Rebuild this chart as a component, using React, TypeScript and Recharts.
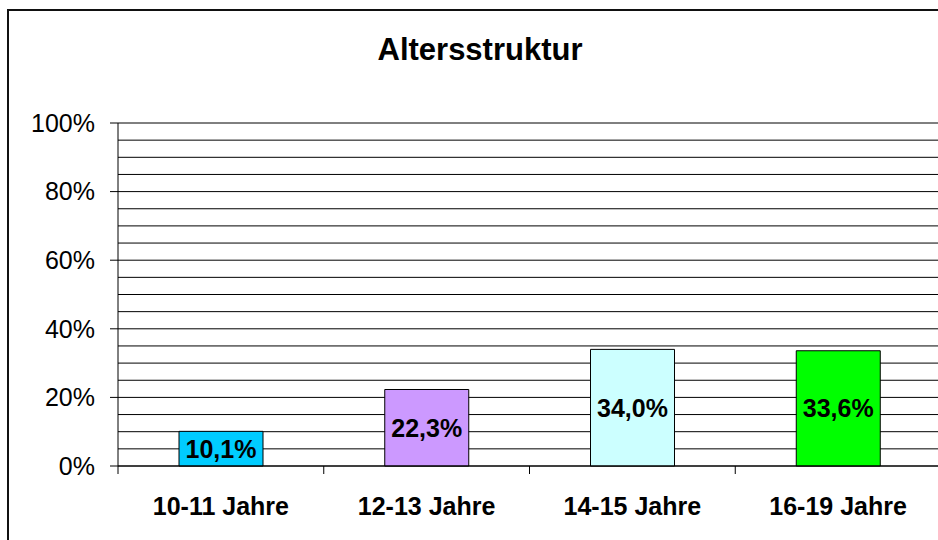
import { BarChart, Bar, XAxis, YAxis, CartesianGrid, Cell, LabelList } from "recharts";

const categories = ["10-11 Jahre", "12-13 Jahre", "14-15 Jahre", "16-19 Jahre"];
const shares = [10.1, 22.3, 34.0, 33.6];
const barColors = ["#00CCFF", "#CC99FF", "#CCFFFF", "#00FF00"];
const yTicks = [0, 20, 40, 60, 80, 100];
const gridTicks = [0, 5, 10, 15, 20, 25, 30, 35, 40, 45, 50, 55, 60, 65, 70, 75, 80, 85, 90, 95, 100];
const yMax = 100;

const data = categories.map((name, i) => ({ name, value: shares[i] }));

const font = "'Liberation Sans', Arial, sans-serif";

const fmtPct = (v: number) => v.toFixed(1).replace(".", ",") + "%";

// category label plus a tick mark at the left edge of each band
const CategoryTick = (props: any) => {
  const { x, y, payload } = props;
  const half = payload?.offset ?? 0;
  const lx = x - half;
  return (
    <g>
      <line x1={lx} x2={lx} y1={y - 31} y2={y - 23} stroke="#000" />
      {payload?.index === categories.length - 1 && (
        <line x1={x + half} x2={x + half} y1={y - 31} y2={y - 23} stroke="#000" />
      )}
      <text x={x} y={y} dy="0.71em" textAnchor="middle" fill="#000" fontSize={25} fontWeight="bold" fontFamily={font}>
        {payload?.value}
      </text>
    </g>
  );
};

const gridCoords = (props: any) => {
  const scale = props?.yAxis?.scale;
  if (typeof scale === "function") return gridTicks.map((v) => scale(v));
  if (scale && typeof scale.map === "function") return gridTicks.map((v) => scale.map(v));
  const off = props?.offset;
  if (!off) return [];
  return gridTicks.map((v) => off.top + off.height * (1 - v / yMax));
};

const App = () => {
  return (
    <div style={{ position: "absolute", left: 0, top: 0, width: 938, height: 540, overflow: "hidden", background: "#fff", fontFamily: font }}>
      <div style={{ position: "absolute", left: 7, top: 9, width: 1000, height: 1000, border: "2px solid #111" }} />
      <div style={{ position: "absolute", left: 0, top: 34, width: 960, textAlign: "center", fontSize: 31, lineHeight: "31px", fontWeight: "bold", color: "#000" }}>
        Altersstruktur
      </div>
      <div style={{ position: "absolute", left: 0, top: 0 }}>
        <BarChart width={960} height={540} data={data} margin={{ top: 123, right: 19, bottom: 0, left: 0 }}>
          <CartesianGrid vertical={false} horizontalCoordinatesGenerator={gridCoords} stroke="#000" />
          <XAxis
            dataKey="name"
            height={74}
            axisLine={{ stroke: "#000" }}
            tickLine={false}
            tickSize={8}
            tickMargin={23}
            tick={<CategoryTick />}
            interval={0}
          />
          <YAxis
            domain={[0, yMax]}
            ticks={yTicks}
            width={118}
            axisLine={{ stroke: "#000" }}
            tickLine={{ stroke: "#000" }}
            tickSize={8}
            tickMargin={15}
            tickFormatter={(v: number) => v + "%"}
            tick={{ fill: "#000", fontSize: 25, fontFamily: font }}
          />
          <Bar dataKey="value" barSize={84} stroke="#000" strokeWidth={1} isAnimationActive={false}>
            {data.map((d, i) => (
              <Cell key={d.name} fill={barColors[i]} />
            ))}
            <LabelList
              dataKey="value"
              position="center"
              formatter={(v: any) => fmtPct(Number(v))}
              style={{ fill: "#000", fontSize: 25, fontWeight: "bold", fontFamily: font }}
            />
          </Bar>
        </BarChart>
      </div>
    </div>
  );
};

export default App;
